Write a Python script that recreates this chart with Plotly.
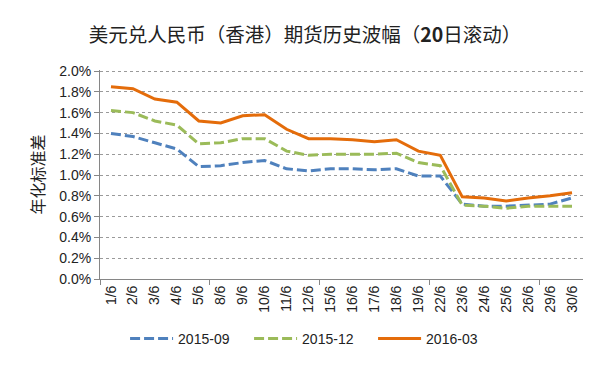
import plotly.graph_objects as go

dates = ["1/6", "2/6", "3/6", "4/6", "5/6", "8/6", "9/6", "10/6", "11/6", "12/6",
         "15/6", "16/6", "17/6", "18/6", "19/6", "22/6", "23/6", "24/6", "25/6",
         "26/6", "29/6", "30/6"]
s_2015_09 = [1.40, 1.37, 1.31, 1.25, 1.08, 1.09, 1.12, 1.14, 1.06, 1.04,
             1.06, 1.06, 1.05, 1.06, 0.99, 0.99, 0.72, 0.70, 0.70, 0.71, 0.72, 0.78]
s_2015_12 = [1.62, 1.60, 1.52, 1.48, 1.30, 1.31, 1.35, 1.35, 1.23, 1.19,
             1.20, 1.20, 1.20, 1.21, 1.12, 1.09, 0.71, 0.70, 0.68, 0.70, 0.70, 0.70]
s_2016_03 = [1.85, 1.83, 1.73, 1.70, 1.52, 1.50, 1.57, 1.58, 1.44, 1.35,
             1.35, 1.34, 1.32, 1.34, 1.23, 1.19, 0.79, 0.78, 0.75, 0.78, 0.80, 0.83]
series_names = ["2015-09", "2015-12", "2016-03"]
y_ticks = [0, 0.002, 0.004, 0.006, 0.008, 0.010, 0.012, 0.014, 0.016, 0.018, 0.020]

xs = list(range(len(dates)))
font_main = "Liberation Sans, Arial, sans-serif"
cjk = "Noto Sans CJK SC, sans-serif"

fig = go.Figure()
styles = [
    (s_2015_09, "#4F81BD", "10px,4px"),
    (s_2015_12, "#9BBB59", "10px,4px"),
    (s_2016_03, "#E46C0A", "solid"),
]
for (vals, color, dash), name in zip(styles, series_names):
    fig.add_trace(go.Scatter(
        x=xs, y=[v / 100 for v in vals], name=name, mode="lines",
        line=dict(color=color, width=3, dash=dash),
    ))

fig.update_layout(
    width=600, height=372,
    margin=dict(l=92, r=25, t=62, b=101),
    paper_bgcolor="white", plot_bgcolor="white",
    title=dict(
        text="美元兑人民币（香港）期货历史波幅（<b>20</b>日滚动）",
        x=0.495, xanchor="center", y=0.927, yanchor="middle",
        font=dict(family=cjk, size=19.5, color="#222222"),
    ),
    showlegend=True,
    legend=dict(
        orientation="h", x=0.437, xanchor="center", y=-0.287, yanchor="middle",
        font=dict(family=font_main, size=14, color="#222222"),
        itemwidth=43, entrywidth=66, entrywidthmode="pixels",
        bgcolor="rgba(0,0,0,0)",
    ),
    xaxis=dict(
        range=[-0.5, len(dates) - 0.5],
        tickmode="array", tickvals=xs, ticktext=dates,
        tickangle=-90, ticks="",
        tickfont=dict(family=font_main, size=14, color="#222222"),
        showgrid=False, zeroline=False,
        showline=True, linecolor="#868686", linewidth=1,
        minor=dict(tick0=-0.5, dtick=5, ticks="outside", ticklen=5,
                   tickcolor="#868686", showgrid=False),
    ),
    yaxis=dict(
        range=[0, 0.0201], tickmode="array", tickvals=y_ticks,
        tickformat=".1%",
        tickfont=dict(family=font_main, size=14, color="#222222"),
        ticks="outside", ticklen=5, tickcolor="#868686",
        showgrid=True, gridcolor="#9A9A9A", griddash="dot", gridwidth=1,
        zeroline=False, showline=True, linecolor="#868686", linewidth=1,
        title=dict(text="年化标准差", font=dict(family=cjk, size=16, color="#222222"),
                   standoff=10),
    ),
)

fig.write_html("out.html")
